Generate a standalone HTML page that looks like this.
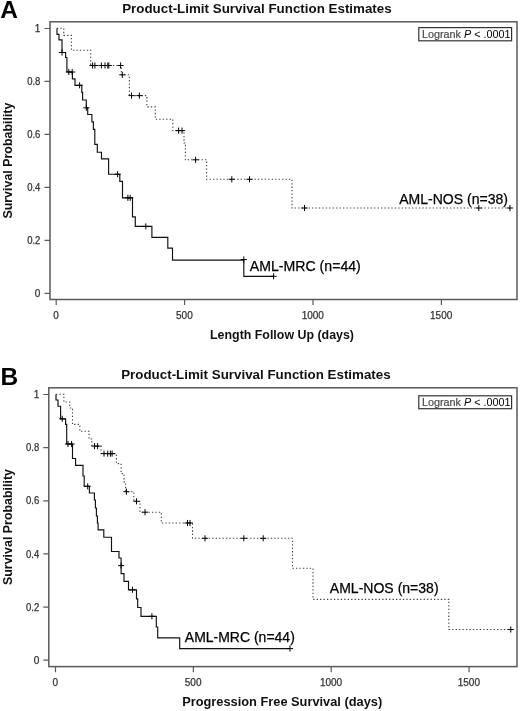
<!DOCTYPE html>
<html lang="en"><head><meta charset="utf-8"><title>Product-Limit Survival Function Estimates</title>
<style>html,body{margin:0;padding:0;background:#fff}svg{display:block}</style></head>
<body>
<svg width="520" height="711" viewBox="0 0 520 711">
<style>
text{font-family:"Liberation Sans",Arial,Helvetica,sans-serif}
.tk{font-size:10px;fill:#333;stroke:#333;stroke-width:.25px}
.ti{font-size:13.6px;font-weight:bold;fill:#111}
.ax{font-size:12px;font-weight:bold;fill:#111}
.lb{font-size:14.3px;fill:#000;stroke:#000;stroke-width:.25px}
.lg{font-size:10.8px}
.pn{font-size:24.5px;font-weight:bold;fill:#000}
</style>
<rect width="520" height="711" fill="#fff"/>
<text x="0.2" y="17.8" class="pn">A</text>
<text x="122.2" y="13.3" textLength="269.5" lengthAdjust="spacingAndGlyphs" class="ti">Product-Limit Survival Function Estimates</text>
<rect x="50" y="21.8" width="467" height="277.7" fill="none" stroke="#5a5a5a" stroke-width="1.5"/>
<path d="M44.5,28.50H50M44.5,81.46H50M44.5,134.42H50M44.5,187.38H50M44.5,240.34H50M44.5,293.30H50M56.20,299.5V305.1M184.60,299.5V305.1M313.00,299.5V305.1M441.40,299.5V305.1" stroke="#5a5a5a" stroke-width="1.2" fill="none"/>
<text x="40.4" y="32.10" text-anchor="end" class="tk">1</text>
<text x="40.4" y="85.06" text-anchor="end" class="tk" textLength="13.2" lengthAdjust="spacingAndGlyphs">0.8</text>
<text x="40.4" y="138.02" text-anchor="end" class="tk" textLength="13.2" lengthAdjust="spacingAndGlyphs">0.6</text>
<text x="40.4" y="190.98" text-anchor="end" class="tk" textLength="13.2" lengthAdjust="spacingAndGlyphs">0.4</text>
<text x="40.4" y="243.94" text-anchor="end" class="tk" textLength="13.2" lengthAdjust="spacingAndGlyphs">0.2</text>
<text x="40.4" y="296.90" text-anchor="end" class="tk">0</text>
<text x="56.00" y="319.1" text-anchor="middle" class="tk">0</text>
<text x="184.40" y="319.1" text-anchor="middle" class="tk">500</text>
<text x="312.80" y="319.1" text-anchor="middle" class="tk">1000</text>
<text x="441.20" y="319.1" text-anchor="middle" class="tk">1500</text>
<rect x="418.8" y="27.6" width="92.8" height="13.2" fill="#fff" stroke="#333" stroke-width="1.2"/><text x="422.0" y="38" class="lg" xml:space="preserve"><tspan fill="#4a4a4a" stroke="#4a4a4a" stroke-width=".2">Logrank </tspan><tspan font-style="italic" fill="#000">P</tspan><tspan fill="#000"> &lt; .0001</tspan></text>
<path d="M57.00,28.30 L63.80,28.30 L63.80,35.40 L71.40,35.40 L71.40,50.20 L90.70,50.20 L90.70,65.50 L121.30,65.50 L121.30,74.80 L129.40,74.80 L129.40,95.60 L146.90,95.60 L146.90,106.90 L155.30,106.90 L155.30,119.20 L172.80,119.20 L172.80,130.60 L184.00,130.60 L184.00,143.00 L185.40,143.00 L185.40,159.80 L206.60,159.80 L206.60,179.30 L292.00,179.30 L292.00,208.00 L510.00,208.00" stroke="#3c3c3c" stroke-width="1.1" fill="none" stroke-dasharray="1.3 2.15"/>
<path d="M89.55,65.50H95.65M92.60,62.45V68.55M91.85,65.50H97.95M94.90,62.45V68.55M98.35,65.50H104.45M101.40,62.45V68.55M101.95,65.50H108.05M105.00,62.45V68.55M104.75,65.50H110.85M107.80,62.45V68.55M105.75,65.50H111.85M108.80,62.45V68.55M117.55,65.50H123.65M120.60,62.45V68.55M119.25,74.80H125.35M122.30,71.75V77.85M128.45,95.60H134.55M131.50,92.55V98.65M136.35,95.60H142.45M139.40,92.55V98.65M175.55,130.60H181.65M178.60,127.55V133.65M178.95,130.60H185.05M182.00,127.55V133.65M192.55,159.80H198.65M195.60,156.75V162.85M228.75,179.30H234.85M231.80,176.25V182.35M246.45,179.30H252.55M249.50,176.25V182.35M301.45,208.00H307.55M304.50,204.95V211.05M475.75,208.00H481.85M478.80,204.95V211.05M506.95,208.00H513.05M510.00,204.95V211.05" stroke="#000" stroke-width="1.0" fill="none"/>
<path d="M57.00,28.30 L57.00,34.40 L59.00,34.40 L59.00,39.90 L62.00,39.90 L62.00,52.50 L65.60,52.50 L65.60,57.50 L66.90,57.50 L66.90,72.00 L72.40,72.00 L72.40,78.80 L75.00,78.80 L75.00,85.30 L81.80,85.30 L81.80,92.30 L82.60,92.30 L82.60,100.00 L86.30,100.00 L86.30,107.80 L87.70,107.80 L87.70,114.50 L91.90,114.50 L91.90,121.90 L93.40,121.90 L93.40,129.40 L94.80,129.40 L94.80,144.40 L97.30,144.40 L97.30,152.20 L101.50,152.20 L101.50,158.80 L108.60,158.80 L108.60,174.20 L119.80,174.20 L119.80,181.30 L122.50,181.30 L122.50,197.80 L132.50,197.80 L132.50,216.90 L135.30,216.90 L135.30,226.40 L151.90,226.40 L151.90,237.30 L167.80,237.30 L167.80,248.10 L172.50,248.10 L172.50,260.10 L243.80,260.10 L243.80,276.30 L273.60,276.30" stroke="#111" stroke-width="1.15" fill="none" stroke-linejoin="miter"/>
<path d="M58.95,52.50H65.05M62.00,49.45V55.55M65.75,72.00H71.85M68.80,68.95V75.05M69.15,72.00H75.25M72.20,68.95V75.05M76.55,85.30H82.65M79.60,82.25V88.35M83.25,107.80H89.35M86.30,104.75V110.85M114.55,174.20H120.65M117.60,171.15V177.25M124.85,197.80H130.95M127.90,194.75V200.85M127.15,197.80H133.25M130.20,194.75V200.85M142.75,226.40H148.85M145.80,223.35V229.45M240.75,259.50H246.85M243.80,256.45V262.55M270.55,276.30H276.65M273.60,273.25V279.35" stroke="#000" stroke-width="1.0" fill="none"/>
<text x="249.8" y="270.9" textLength="111" lengthAdjust="spacingAndGlyphs" class="lb">AML-MRC (n=44)</text>
<text x="399.2" y="203.5" textLength="108.8" lengthAdjust="spacingAndGlyphs" class="lb">AML-NOS (n=38)</text>
<text x="210" y="338.6" textLength="144" lengthAdjust="spacingAndGlyphs" class="ax">Length Follow Up (days)</text>
<text transform="translate(11.8,218.6) rotate(-90)" textLength="116" lengthAdjust="spacingAndGlyphs" class="ax">Survival Probability</text>
<text x="0.4" y="384.8" class="pn">B</text>
<text x="121.2" y="379.4" textLength="269.5" lengthAdjust="spacingAndGlyphs" class="ti">Product-Limit Survival Function Estimates</text>
<rect x="48.8" y="387.8" width="468.2" height="278.8" fill="none" stroke="#5a5a5a" stroke-width="1.5"/>
<path d="M43.3,394.50H48.8M43.3,447.64H48.8M43.3,500.78H48.8M43.3,553.92H48.8M43.3,607.06H48.8M43.3,660.20H48.8M55.50,666.6V672.2M193.35,666.6V672.2M331.20,666.6V672.2M469.05,666.6V672.2" stroke="#5a5a5a" stroke-width="1.2" fill="none"/>
<text x="39.199999999999996" y="398.10" text-anchor="end" class="tk">1</text>
<text x="39.199999999999996" y="451.24" text-anchor="end" class="tk" textLength="13.2" lengthAdjust="spacingAndGlyphs">0.8</text>
<text x="39.199999999999996" y="504.38" text-anchor="end" class="tk" textLength="13.2" lengthAdjust="spacingAndGlyphs">0.6</text>
<text x="39.199999999999996" y="557.52" text-anchor="end" class="tk" textLength="13.2" lengthAdjust="spacingAndGlyphs">0.4</text>
<text x="39.199999999999996" y="610.66" text-anchor="end" class="tk" textLength="13.2" lengthAdjust="spacingAndGlyphs">0.2</text>
<text x="39.199999999999996" y="663.80" text-anchor="end" class="tk">0</text>
<text x="55.30" y="686.2" text-anchor="middle" class="tk">0</text>
<text x="193.15" y="686.2" text-anchor="middle" class="tk">500</text>
<text x="331.00" y="686.2" text-anchor="middle" class="tk">1000</text>
<text x="468.85" y="686.2" text-anchor="middle" class="tk">1500</text>
<rect x="418.8" y="395.8" width="92.8" height="12.9" fill="#fff" stroke="#333" stroke-width="1.2"/><text x="422.0" y="406.2" class="lg" xml:space="preserve"><tspan fill="#4a4a4a" stroke="#4a4a4a" stroke-width=".2">Logrank </tspan><tspan font-style="italic" fill="#000">P</tspan><tspan fill="#000"> &lt; .0001</tspan></text>
<path d="M56.00,394.30 L63.90,394.30 L63.90,402.00 L69.70,402.00 L69.70,408.00 L72.50,408.00 L72.50,424.40 L79.80,424.40 L79.80,431.30 L89.00,431.30 L89.00,439.00 L91.90,439.00 L91.90,446.10 L101.10,446.10 L101.10,453.60 L116.40,453.60 L116.40,463.60 L121.10,463.60 L121.10,473.60 L124.00,473.60 L124.00,481.90 L125.60,481.90 L125.60,491.70 L133.80,491.70 L133.80,501.30 L140.00,501.30 L140.00,512.20 L161.30,512.20 L161.30,523.00 L192.50,523.00 L192.50,538.30 L292.50,538.30 L292.50,568.30 L313.00,568.30 L313.00,599.40 L448.80,599.40 L448.80,629.50 L510.80,629.50" stroke="#3c3c3c" stroke-width="1.1" fill="none" stroke-dasharray="1.3 2.15"/>
<path d="M91.45,446.10H97.55M94.50,443.05V449.15M94.55,446.10H100.65M97.60,443.05V449.15M100.95,453.60H107.05M104.00,450.55V456.65M104.65,453.60H110.75M107.70,450.55V456.65M107.35,453.60H113.45M110.40,450.55V456.65M109.05,453.60H115.15M112.10,450.55V456.65M123.35,491.70H129.45M126.40,488.65V494.75M133.45,501.30H139.55M136.50,498.25V504.35M141.95,512.20H148.05M145.00,509.15V515.25M184.45,523.00H190.55M187.50,519.95V526.05M186.95,523.00H193.05M190.00,519.95V526.05M201.95,538.30H208.05M205.00,535.25V541.35M240.75,538.30H246.85M243.80,535.25V541.35M260.15,538.30H266.25M263.20,535.25V541.35M507.75,629.50H513.85M510.80,626.45V632.55" stroke="#000" stroke-width="1.0" fill="none"/>
<path d="M56.00,394.30 L56.00,400.00 L58.00,400.00 L58.00,406.20 L60.60,406.20 L60.60,418.80 L65.60,418.80 L65.60,424.40 L66.70,424.40 L66.70,444.00 L72.50,444.00 L72.50,458.50 L75.60,458.50 L75.60,465.30 L83.00,465.30 L83.00,476.00 L84.20,476.00 L84.20,486.30 L89.40,486.30 L89.40,493.00 L94.40,493.00 L94.40,500.00 L95.40,500.00 L95.40,508.00 L96.40,508.00 L96.40,516.00 L97.40,516.00 L97.40,523.00 L98.10,523.00 L98.10,529.80 L103.80,529.80 L103.80,537.20 L111.50,537.20 L111.50,551.50 L119.00,551.50 L119.00,558.00 L121.10,558.00 L121.10,573.60 L124.00,573.60 L124.00,581.30 L128.50,581.30 L128.50,589.80 L136.50,589.80 L136.50,598.80 L137.70,598.80 L137.70,607.50 L141.00,607.50 L141.00,616.30 L156.30,616.30 L156.30,627.00 L157.70,627.00 L157.70,637.80 L179.70,637.80 L179.70,648.60 L290.00,648.60" stroke="#111" stroke-width="1.15" fill="none" stroke-linejoin="miter"/>
<path d="M59.15,418.80H65.25M62.20,415.75V421.85M64.95,444.00H71.05M68.00,440.95V447.05M68.55,444.00H74.65M71.60,440.95V447.05M84.65,486.30H90.75M87.70,483.25V489.35M118.05,565.60H124.15M121.10,562.55V568.65M129.45,589.80H135.55M132.50,586.75V592.85M148.85,616.30H154.95M151.90,613.25V619.35M286.95,648.60H293.05M290.00,645.55V651.65" stroke="#000" stroke-width="1.0" fill="none"/>
<text x="184.8" y="642" textLength="110" lengthAdjust="spacingAndGlyphs" class="lb">AML-MRC (n=44)</text>
<text x="329.8" y="592.8" textLength="108.8" lengthAdjust="spacingAndGlyphs" class="lb">AML-NOS (n=38)</text>
<text x="182.2" y="705.9" textLength="200" lengthAdjust="spacingAndGlyphs" class="ax">Progression Free Survival (days)</text>
<text transform="translate(11.8,585) rotate(-90)" textLength="116" lengthAdjust="spacingAndGlyphs" class="ax">Survival Probability</text>
</svg>
</body></html>
